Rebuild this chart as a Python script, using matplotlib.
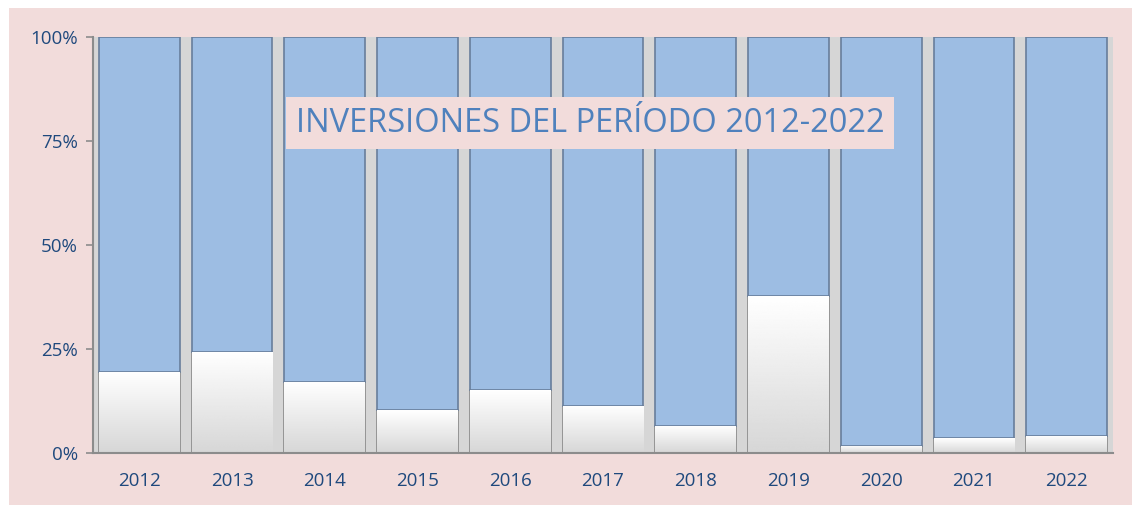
import numpy as np
import matplotlib
matplotlib.use('Agg')
import matplotlib.pyplot as plt
from matplotlib.patches import Rectangle

PINK = '#F2DCDB'; BLUE = '#9DBDE3'; INK = '#1F497D'; TITLE = '#4F81BD'
WALL = '#D6D6D6'; AXIS = '#8C8C8C'

years = ['2012', '2013', '2014', '2015', '2016', '2017', '2018', '2019', '2020', '2021', '2022']
# share of the lower (white) series, in %
lower = [19.5, 24.3, 17.1, 10.3, 15.1, 11.3, 6.5, 37.7, 1.7, 3.6, 4.1]
upper = [100 - v for v in lower]
yticks = [0, 25, 50, 75, 100]
ylabels = ['0%', '25%', '50%', '75%', '100%']

plt.rcParams['font.family'] = ['Open Sans', 'DejaVu Sans']

fig = plt.figure(figsize=(11.32, 5.05), dpi=100)
fig.patch.set_facecolor('white')
fig.patches.append(Rectangle((9 / 1132, 0), 1, 1 - 8 / 505, transform=fig.transFigure,
                             facecolor=PINK, edgecolor='none', zorder=-10))

ax = fig.add_axes([93 / 1132, 1 - 453 / 505, (1113 - 93) / 1132, (453 - 37) / 505])
ax.set_facecolor(WALL)

x = np.arange(len(years))
w = 0.87
bot = ax.bar(x, lower, width=w, color='white', edgecolor='#8A8A8A', linewidth=1.2, zorder=2)
top = ax.bar(x, upper, bottom=lower, width=w, color=BLUE, edgecolor='#687E9C', linewidth=1.2, zorder=2)

# soft gradient on the white segments (white top, light gray bottom)
grad = np.linspace(0.84, 1.0, 256).reshape(-1, 1)
for b in bot:
    im = ax.imshow(grad, cmap='gray', vmin=0, vmax=1, aspect='auto', origin='lower',
                   extent=[b.get_x(), b.get_x() + b.get_width(), 0, b.get_height()], zorder=2.5)
    im.set_clip_path(b)
ax.set_xlim(-0.5, len(years) - 0.5)
ax.set_ylim(0, 100)

ax.set_xticks(x)
ax.set_xticklabels(years, fontsize=13.5, color=INK)
ax.set_yticks(yticks)
ax.set_yticklabels(ylabels, fontsize=13.5, color=INK)
ax.tick_params(axis='x', length=0, pad=14)
ax.tick_params(axis='y', length=5, color=AXIS, width=1.2, pad=6)
for s in ['top', 'right']:
    ax.spines[s].set_visible(False)
for s in ['left', 'bottom']:
    ax.spines[s].set_color(AXIS)
    ax.spines[s].set_linewidth(1.5)

fig.text(590 / 1132, 1 - 123 / 505, 'INVERSIONES DEL PERÍODO 2012-2022', ha='center', va='center',
         fontsize=23.5, color=TITLE,
         bbox=dict(boxstyle='square,pad=0.3', facecolor=PINK, edgecolor='none'))

fig.savefig('out.png', dpi=100, facecolor=fig.get_facecolor())
